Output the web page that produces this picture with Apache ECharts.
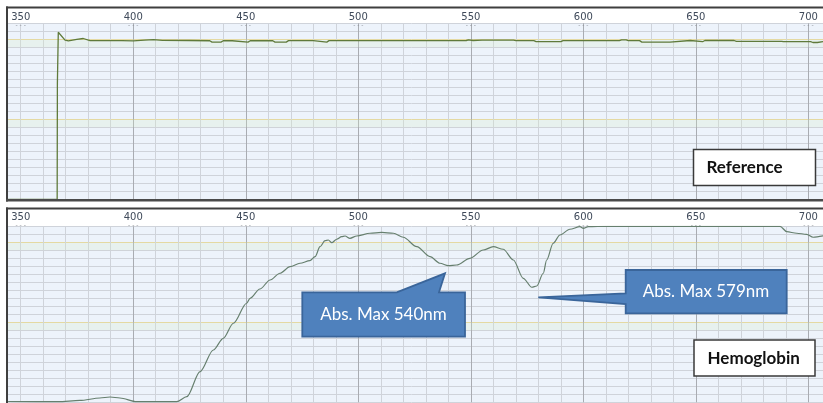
<!DOCTYPE html>
<html>
<head>
<meta charset="utf-8">
<script src="https://cdn.jsdelivr.net/npm/echarts@6/dist/echarts.min.js"></script>
<style>html,body{margin:0;padding:0;background:#fff}#c{width:823px;height:403px}</style>
</head>
<body>
<div id="c"></div>
<script>
// Wavelength tick labels (nm)
var tickLabels = [350, 400, 450, 500, 550, 600, 650, 700];

// Reference spectrum
var refWavelength = [344.4, 366.2, 366.3, 366.6, 366.7, 369.7, 371.2, 374.9, 377.8, 380.8, 395, 400, 405, 409, 413, 425, 434, 435, 439, 440, 444, 444.5, 451, 452, 462, 463, 468, 469, 480, 480.5, 486, 487, 548, 549, 551, 555, 569, 570, 578, 579, 590, 591, 616, 617, 619, 620, 625, 626, 638.5, 639, 647.5, 648, 653, 654, 667, 668, 688, 689, 701, 702, 704, 706.5];
var refValue = [0, 0, 14.5, 14.6, 20.88, 19.9, 19.79, 20.0, 20.1, 19.83, 19.83, 19.8, 19.9, 19.95, 19.86, 19.85, 19.82, 19.65, 19.65, 19.82, 19.82, 19.65, 19.65, 19.82, 19.82, 19.65, 19.65, 19.83, 19.83, 19.65, 19.65, 19.83, 19.85, 19.92, 19.85, 19.9, 19.9, 19.83, 19.83, 19.7, 19.7, 19.83, 19.83, 19.92, 19.92, 19.83, 19.83, 19.65, 19.65, 19.85, 19.85, 19.7, 19.7, 19.85, 19.85, 19.75, 19.75, 19.7, 19.7, 19.6, 19.6, 19.7];

// Hemoglobin spectrum
var hbWavelength = [344.4, 366.6, 376.3, 385.2, 389.7, 394.1, 401.5, 419.3, 423.8, 429.7, 435.6, 440.0, 444.5, 450.4, 451.9, 456.3, 460.8, 465.2, 469.7, 474.1, 478.5, 480.8, 483.0, 485.2, 486.7, 488.2, 490.4, 492.6, 494.1, 496.3, 499.3, 505.2, 510.4, 515.6, 520.0, 526.0, 531.9, 536.3, 540.0, 543.7, 549.6, 555.5, 560.0, 564.4, 568.9, 573.3, 577.1, 579.3, 582.2, 583.7, 586.6, 589.6, 594.0, 598.5, 600.0, 602.2, 610.4, 687.4, 690.4, 694.8, 699.2, 702.1, 706.5];
var hbValue = [0.1, 0.08, 0.23, 0.54, 0.66, 0.54, 0.08, 0.08, 0.7, 3.83, 6.54, 8.0, 9.88, 12.38, 13.0, 14.16, 15.29, 16.13, 16.95, 17.38, 17.7, 18.2, 19.45, 20.2, 20.29, 19.95, 20.38, 20.7, 20.79, 20.5, 20.79, 21.13, 21.25, 21.13, 20.63, 19.45, 18.2, 17.38, 17.08, 17.16, 18.0, 19.04, 19.45, 19.13, 17.79, 15.5, 14.38, 14.54, 16.13, 17.79, 19.88, 20.91, 21.63, 21.95, 21.75, 21.95, 22, 22, 21.33, 21.13, 21.0, 20.63, 20.8];

var xMin = 340, xMax = 710, xStep = 10;
var yMin = 0, yMax = 22, yStep = 1;

function zip(a, b) { return a.map(function (v, i) { return [v, b[i]]; }); }

var xColors = [];
for (var t = xMin; t <= xMax; t += xStep) {
  xColors.push((t % 50 === 0 && t !== 350) ? '#a9acb2' : '#cfd3da');
}
var yColors = [];
for (var u = yMin; u <= yMax; u += yStep) {
  yColors.push((u === 10 || u === 20) ? '#e8d59a' : '#cfd3da');
}

function xAxisDef(gi, margin) {
  return {
    type: 'value', gridIndex: gi, position: 'top', min: xMin, max: xMax, interval: xStep,
    axisLine: { show: false }, axisTick: { show: false },
    axisLabel: {
      margin: margin, verticalAlign: 'middle', hideOverlap: false, showMinLabel: true, showMaxLabel: true,
      formatter: function (v) { return tickLabels.indexOf(v) >= 0 ? '{v|' + v + '}\n{d|- - -}' : ''; },
      rich: {
        v: { fontFamily: 'DejaVu Sans', fontSize: 10, lineHeight: 11, color: '#3f4a5a', align: 'center' },
        d: { fontFamily: 'DejaVu Sans', fontSize: 6, lineHeight: 5, color: '#8a8e96', align: 'center' }
      }
    },
    splitLine: { show: true, lineStyle: { color: xColors, width: 1 } }
  };
}
function yAxisDef(gi) {
  return {
    type: 'value', gridIndex: gi, min: yMin, max: yMax, interval: yStep,
    axisLine: { show: false }, axisTick: { show: false }, axisLabel: { show: false },
    splitLine: { show: true, lineStyle: { color: yColors, width: 1 } }
  };
}
var bands = [[{ yAxis: 9 }, { yAxis: 10 }], [{ yAxis: 19 }, { yAxis: 20 }]];

var chart = echarts.init(document.getElementById('c'), null, { renderer: 'canvas' });
chart.setOption({
  animation: false,
  backgroundColor: '#ffffff',
  grid: [
    { left: -1.8, width: 832.7, top: 23.3, height: 176, outerBoundsMode: 'none', containLabel: false, show: true, backgroundColor: '#edf3fb', borderWidth: 0 },
    { left: -1.8, width: 832.7, top: 226.3, height: 176, outerBoundsMode: 'none', containLabel: false, show: true, backgroundColor: '#edf3fb', borderWidth: 0 }
  ],
  xAxis: [xAxisDef(0, 3.5), xAxisDef(1, 6)],
  yAxis: [yAxisDef(0), yAxisDef(1)],
  series: [
    {
      type: 'line', xAxisIndex: 0, yAxisIndex: 0, data: zip(refWavelength, refValue),
      showSymbol: false, lineStyle: { color: '#5f7a3a', width: 1.3 }, clip: true,
      markArea: { silent: true, itemStyle: { color: 'rgba(215,236,200,0.25)' }, data: bands }
    },
    {
      type: 'line', xAxisIndex: 1, yAxisIndex: 1, data: zip(hbWavelength, hbValue),
      showSymbol: false, smooth: 0.3, smoothMonotone: 'x', lineStyle: { color: '#667f6e', width: 1.2 }, clip: true,
      markArea: { silent: true, itemStyle: { color: 'rgba(215,236,200,0.25)' }, data: bands }
    }
  ],
  graphic: [
    { type: 'rect', z: 100, shape: { x: 0, y: 0, width: 6, height: 403 }, style: { fill: '#ffffff' } },
    // top frame
    { type: 'rect', z: 101, shape: { x: 6, y: 6.5, width: 817, height: 2 }, style: { fill: '#3f3f3f' } },
    { type: 'rect', z: 101, shape: { x: 6, y: 6.5, width: 2, height: 195 }, style: { fill: '#3f3f3f' } },
    { type: 'rect', z: 101, shape: { x: 6, y: 199, width: 817, height: 2.5 }, style: { fill: '#4a4a4a' } },
    // bottom frame
    { type: 'rect', z: 101, shape: { x: 6, y: 207.5, width: 817, height: 2 }, style: { fill: '#3f3f3f' } },
    { type: 'rect', z: 101, shape: { x: 6, y: 207.5, width: 2, height: 196 }, style: { fill: '#3f3f3f' } },
    // labels
    { type: 'rect', z: 110, shape: { x: 693.5, y: 149.5, width: 122, height: 36 }, style: { fill: '#ffffff', stroke: '#3a3a3a', lineWidth: 1.5 } },
    { type: 'text', z: 111, style: { x: 706.5, y: 168, text: 'Reference', fill: '#111', font: 'bold 17px Lato', textVerticalAlign: 'middle', verticalAlign: 'middle' } },
    { type: 'rect', z: 110, shape: { x: 694, y: 340, width: 121, height: 36 }, style: { fill: '#ffffff', stroke: '#3a3a3a', lineWidth: 1.5 } },
    { type: 'text', z: 111, style: { x: 707.5, y: 358.5, text: 'Hemoglobin', fill: '#111', font: 'bold 17px Lato', textVerticalAlign: 'middle', verticalAlign: 'middle' } },
    // callouts
    { type: 'polygon', z: 110, shape: { points: [[302.3, 292.3], [396.7, 292.3], [445, 273.3], [439, 292.3], [465, 292.3], [465, 336.7], [302.3, 336.7]] }, style: { fill: '#4f81bd', stroke: '#3a659a', lineWidth: 1.8 } },
    { type: 'text', z: 111, style: { x: 383.5, y: 314.5, text: 'Abs. Max 540nm', fill: '#ffffff', font: '17px Lato', textAlign: 'center', align: 'center', textVerticalAlign: 'middle', verticalAlign: 'middle' } },
    { type: 'polygon', z: 110, shape: { points: [[625.7, 270], [786.7, 270], [786.7, 313.3], [625.7, 313.3], [625.7, 304], [538.3, 297.3], [625.7, 293.3]] }, style: { fill: '#4f81bd', stroke: '#3a659a', lineWidth: 1.8 } },
    { type: 'text', z: 111, style: { x: 706, y: 291.5, text: 'Abs. Max 579nm', fill: '#ffffff', font: '17px Lato', textAlign: 'center', align: 'center', textVerticalAlign: 'middle', verticalAlign: 'middle' } }
  ]
});
</script>
</body>
</html>
